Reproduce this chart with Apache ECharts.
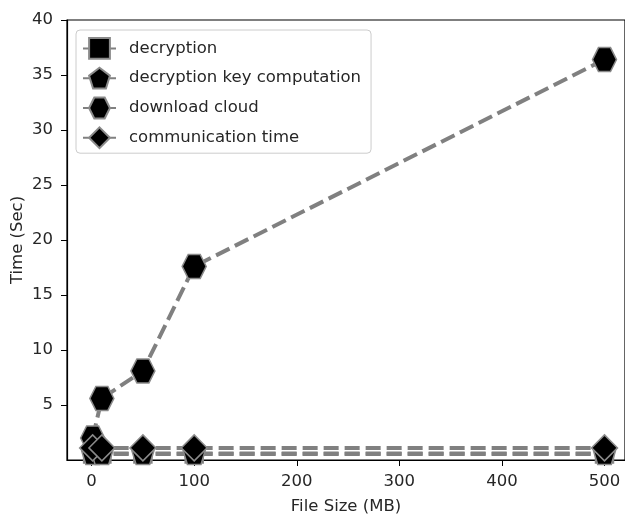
<!DOCTYPE html>
<html>
<head>
<meta charset="utf-8">
<script src="https://cdn.jsdelivr.net/npm/echarts@6/dist/echarts.min.js"></script>
<style>html,body{margin:0;padding:0;background:#fff;}#c{width:625px;height:520px;}</style>
</head>
<body>
<div id="c"></div>
<script>
const fileSizes = [1, 10, 50, 100, 500];
const decryption = [0.55, 0.55, 0.55, 0.55, 0.55];
const decryptionKey = [0.6, 0.6, 0.6, 0.6, 0.6];
const downloadCloud = [2.0, 5.6, 8.1, 17.6, 36.4];
const communication = [1.1, 1.1, 1.1, 1.1, 1.1];
const xTicks = [0, 100, 200, 300, 400, 500];
const yTicks = [5, 10, 15, 20, 25, 30, 35, 40];
const seriesNames = ['decryption', 'decryption key computation', 'download cloud', 'communication time'];

const pentagon = 'path://M0,-1 L0.951,-0.309 L0.588,0.809 L-0.588,0.809 L-0.951,-0.309 Z';
const hexagon = 'path://M-1,0 L-0.5,-0.866 L0.5,-0.866 L1,0 L0.5,0.866 L-0.5,0.866 Z';

function pts(ys){ return fileSizes.map((x,i)=>[x, ys[i]]); }
function mk(name, ys, symbol, size){
  return {
    name, type:'line', data: pts(ys), symbol, symbolSize: size,
    lineStyle:{color:'#808080', width:4, type:[15,6]},
    itemStyle:{color:'#000', borderColor:'#8a8a8a', borderWidth:1.5},
    emphasis:{disabled:true}, animation:false
  };
}
const font = 'DejaVu Sans';
const txt = '#262626';
const chart = echarts.init(document.getElementById('c'), null, {renderer:'canvas'});
chart.setOption({
  backgroundColor:'#fff',
  animation:false,
  grid:{left:67, right:0, top:20, bottom:60, outerBoundsMode:'none', containLabel:false,
        show:true, borderColor:'#000', borderWidth:1.2, backgroundColor:'transparent'},
  legend:{
    orient:'vertical', left:76, top:30, padding:[7,10,4,6],
    backgroundColor:'#fff', borderColor:'#ccc', borderWidth:1, borderRadius:4,
    itemWidth:33, itemHeight:26, itemGap:7,
    textStyle:{fontFamily:font, fontSize:16.5, color:txt, padding:[0,0,0,8]},
    data: seriesNames
  },
  xAxis:{
    type:'value', min:-24, max:520,
    name:'File Size (MB)', nameLocation:'middle', nameGap:38, nameMoveOverlap:false,
    nameTextStyle:{fontFamily:font, fontSize:16.5, color:txt},
    splitLine:{show:false},
    axisLine:{show:true, onZero:false, lineStyle:{color:'#000', width:1.2}},
    axisTick:{show:true, length:6, lineStyle:{color:'#000'}, customValues:xTicks},
    axisLabel:{fontFamily:font, fontSize:16.5, color:txt, margin:13, customValues:xTicks}
  },
  yAxis:{
    type:'value', min:0, max:40,
    name:'Time (Sec)', nameLocation:'middle', nameGap:41, nameMoveOverlap:false,
    nameTextStyle:{fontFamily:font, fontSize:16.5, color:txt},
    splitLine:{show:false},
    axisLine:{show:true, onZero:false, lineStyle:{color:'#000', width:1.2}},
    axisTick:{show:true, length:6, lineStyle:{color:'#000'}, customValues:yTicks},
    axisLabel:{fontFamily:font, fontSize:16.5, color:txt, margin:14, customValues:yTicks}
  },
  series:[
    mk(seriesNames[0], decryption, 'rect', 18),
    mk(seriesNames[1], decryptionKey, pentagon, 22),
    mk(seriesNames[2], downloadCloud, hexagon, 24),
    mk(seriesNames[3], communication, 'diamond', 26)
  ]
});
</script>
</body>
</html>
